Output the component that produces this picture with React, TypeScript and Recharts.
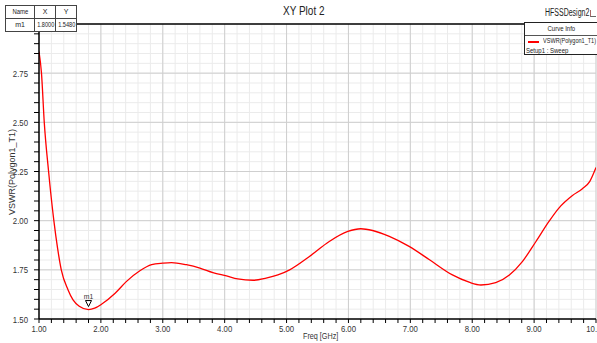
import React from 'react';
import { LineChart, Line, XAxis, YAxis, CartesianGrid, ReferenceLine, ReferenceDot } from 'recharts';

const freqGHz = [1.0, 1.04, 1.085, 1.155, 1.24, 1.3, 1.36, 1.47, 1.55, 1.65, 1.8, 1.9, 2.01, 2.23, 2.41, 2.63, 2.82, 3.0, 3.14, 3.38, 3.6, 3.81, 4.03, 4.21, 4.46, 4.67, 4.86, 5.05, 5.37, 5.69, 5.99, 6.2, 6.39, 6.66, 6.98, 7.31, 7.68, 7.95, 8.14, 8.38, 8.6, 8.81, 9.03, 9.24, 9.4, 9.62, 9.78, 9.9, 10.0];
const vswr = [2.86, 2.75, 2.5, 2.25, 2.0, 1.86, 1.75, 1.648, 1.597, 1.565, 1.548, 1.555, 1.575, 1.631, 1.69, 1.745, 1.776, 1.784, 1.787, 1.776, 1.759, 1.736, 1.719, 1.704, 1.697, 1.708, 1.724, 1.75, 1.818, 1.894, 1.945, 1.959, 1.95, 1.92, 1.869, 1.801, 1.724, 1.687, 1.673, 1.685, 1.724, 1.792, 1.894, 1.996, 2.064, 2.128, 2.162, 2.2, 2.27];

const xMajorTicks = [1, 2, 3, 4, 5, 6, 7, 8, 9, 10];
const yMajorTicks = [1.5, 1.75, 2.0, 2.25, 2.5, 2.75, 3.0];
const xMinorStep = 0.2;
const yMinorStep = 0.05;

const markerName = 'm1';
const markerX = 1.8;
const markerY = 1.548;

const title = 'XY Plot 2';
const designName = 'HFSSDesign2';
const seriesName = 'VSWR(Polygon1_T1)';
const setupName = 'Setup1 : Sweep';
const xLabel = 'Freq [GHz]';

const data = freqGHz.map((f, i) => ({ f, v: vswr[i] }));

const xTicks: number[] = [];
for (let i = 0; i <= 45; i++) xTicks.push(Math.round((1 + i * xMinorStep) * 100) / 100);
const yTicks: number[] = [];
for (let i = 0; i <= 30; i++) yTicks.push(Math.round((1.5 + i * yMinorStep) * 100) / 100);

const FONT = '"Liberation Sans", Arial, sans-serif';
const isMajorX = (v: number) => Math.abs(v - Math.round(v)) < 1e-6;
const isMajorY = (v: number) => Math.abs(v * 4 - Math.round(v * 4)) < 1e-6;

const XTick = (props: any) => {
  const { x, payload } = props;
  const v = payload.value;
  const ay = 319;
  return (
    <g>
      <line x1={x} x2={x} y1={ay} y2={ay + 4} stroke="#000" strokeWidth={1} />
      {isMajorX(v) && (
        <text
          transform={`translate(${x},${ay + 13}) scale(0.82,1)`}
          textAnchor="middle"
          fontSize={9.5}
          fill="#333"
          fontFamily={FONT}
        >
          {v.toFixed(2)}
        </text>
      )}
    </g>
  );
};

const YTick = (props: any) => {
  const { y, payload } = props;
  const v = payload.value;
  const ax = 39;
  if (v > 2.99) return <g />;
  return (
    <g>
      <line x1={ax - 5} x2={ax} y1={y} y2={y} stroke="#000" strokeWidth={1} />
      {isMajorY(v) && (
        <text
          transform={`translate(${ax - 11},${y + 3.5}) scale(0.82,1)`}
          textAnchor="end"
          fontSize={9.5}
          fill="#333"
          fontFamily={FONT}
        >
          {v.toFixed(2)}
        </text>
      )}
    </g>
  );
};

const MarkerShape = (props: any) => {
  const { cx, cy } = props;
  return (
    <g>
      <path d={`M ${cx - 3} ${cy - 9} L ${cx + 3} ${cy - 9} L ${cx} ${cy - 3} Z`} fill="#fff" stroke="#000" strokeWidth={1} />
      <text transform={`translate(${cx},${cy - 11}) scale(0.85,1)`} textAnchor="middle" fontSize={8} fill="#333" fontFamily={FONT}>
        {markerName}
      </text>
    </g>
  );
};

const cell: React.CSSProperties = {
  border: '1px solid #444',
  padding: 0,
  textAlign: 'center',
  fontSize: 7,
  fontFamily: FONT,
  color: '#222',
  height: 12,
  lineHeight: '12px',
  whiteSpace: 'nowrap',
  overflow: 'hidden',
};

const narrow = (s: number): React.CSSProperties => ({
  display: 'inline-block',
  transform: `scaleX(${s})`,
  transformOrigin: 'left center',
  whiteSpace: 'nowrap',
});

export default function App() {
  return (
    <div style={{ position: 'fixed', left: 0, top: 0, width: 597, height: 343, background: '#fff', overflow: 'hidden' }}>
      <LineChart width={597} height={343} data={data} margin={{ top: 24, right: 1, bottom: 0, left: 0 }}>
        <CartesianGrid stroke="#ebebeb" strokeWidth={1} />
        <XAxis
          type="number"
          dataKey="f"
          domain={[1, 10]}
          ticks={xTicks}
          interval={0}
          height={24}
          tickLine={false}
          tick={<XTick />}
          axisLine={{ stroke: '#000', strokeWidth: 1.5 }}
          allowDataOverflow
        />
        <YAxis
          type="number"
          domain={[1.5, 3.0]}
          ticks={yTicks}
          interval={0}
          width={39}
          tickLine={false}
          tick={<YTick />}
          axisLine={{ stroke: '#000', strokeWidth: 1.5 }}
          allowDataOverflow
        />
        {xMajorTicks.slice(1).map((t) => (
          <ReferenceLine key={'x' + t} x={t} stroke="#cfcfcf" strokeWidth={1} />
        ))}
        {yMajorTicks.slice(1, -1).map((t) => (
          <ReferenceLine key={'y' + t} y={t} stroke="#cfcfcf" strokeWidth={1} />
        ))}
        <ReferenceLine y={3.0} stroke="#000" strokeWidth={1.5} />
        <Line
          type="monotone"
          dataKey="v"
          stroke="#ff0000"
          strokeWidth={1.3}
          dot={false}
          isAnimationActive={false}
        />
        <ReferenceDot x={markerX} y={markerY} r={0} shape={<MarkerShape />} />
      </LineChart>

      <div style={{ position: 'absolute', left: 283, top: 4, fontFamily: FONT, fontSize: 12.5, color: '#222' }}>
        <span style={narrow(0.8)}>{title}</span>
      </div>
      <div style={{ position: 'absolute', left: 545, top: 7, fontFamily: FONT, fontSize: 10, color: '#222' }}>
        <span style={narrow(0.7)}>{designName}</span>
      </div>
      <div style={{ position: 'absolute', left: 590, top: 10, width: 5, height: 6, borderLeft: '1px solid #a66', borderBottom: '1px solid #666' }} />
      <div style={{ position: 'absolute', left: 303, top: 331, fontFamily: FONT, fontSize: 8.5, color: '#333' }}>
        <span style={narrow(0.85)}>{xLabel}</span>
      </div>
      <div
        style={{
          position: 'absolute',
          left: 12,
          top: 172,
          transform: 'translate(-50%, -50%) rotate(-90deg)',
          fontFamily: FONT,
          fontSize: 9,
          color: '#333',
          whiteSpace: 'nowrap',
        }}
      >
        {seriesName}
      </div>

      <table style={{ position: 'absolute', left: 5, top: 5, borderCollapse: 'collapse', background: '#fff', border: '1.5px solid #333', tableLayout: 'fixed', width: 68 }}>
        <tbody>
          <tr>
            <td style={{ ...cell, width: 28 }}><span style={{ ...narrow(0.85), transformOrigin: 'center' }}>Name</span></td>
            <td style={{ ...cell, width: 20 }}>X</td>
            <td style={{ ...cell, width: 20 }}>Y</td>
          </tr>
          <tr>
            <td style={cell}>{markerName}</td>
            <td style={cell}><span style={{ ...narrow(0.8), transformOrigin: 'center' }}>{markerX.toFixed(4)}</span></td>
            <td style={cell}><span style={{ ...narrow(0.8), transformOrigin: 'center' }}>{markerY.toFixed(4)}</span></td>
          </tr>
        </tbody>
      </table>

      <div
        style={{
          position: 'absolute',
          left: 524,
          top: 22,
          width: 80,
          height: 33,
          background: '#fff',
          border: '1.5px solid #222',
          fontFamily: FONT,
          fontSize: 7.5,
          color: '#222',
          boxSizing: 'border-box',
        }}
      >
        <div style={{ textAlign: 'center', width: 73, height: 12, lineHeight: '12px', borderBottom: '1px solid #555' }}>
          <span style={{ ...narrow(0.8), transformOrigin: 'center' }}>Curve Info</span>
        </div>
        <div style={{ position: 'relative', height: 10, lineHeight: '10px' }}>
          <span style={{ position: 'absolute', left: 3, top: 5, width: 11, height: 1.5, background: '#ff0000' }} />
          <span style={{ position: 'absolute', left: 18, top: 0, ...narrow(0.74) }}>{seriesName}</span>
        </div>
        <div style={{ paddingLeft: 1, height: 9, lineHeight: '9px' }}>
          <span style={narrow(0.8)}>{setupName}</span>
        </div>
      </div>
    </div>
  );
}
